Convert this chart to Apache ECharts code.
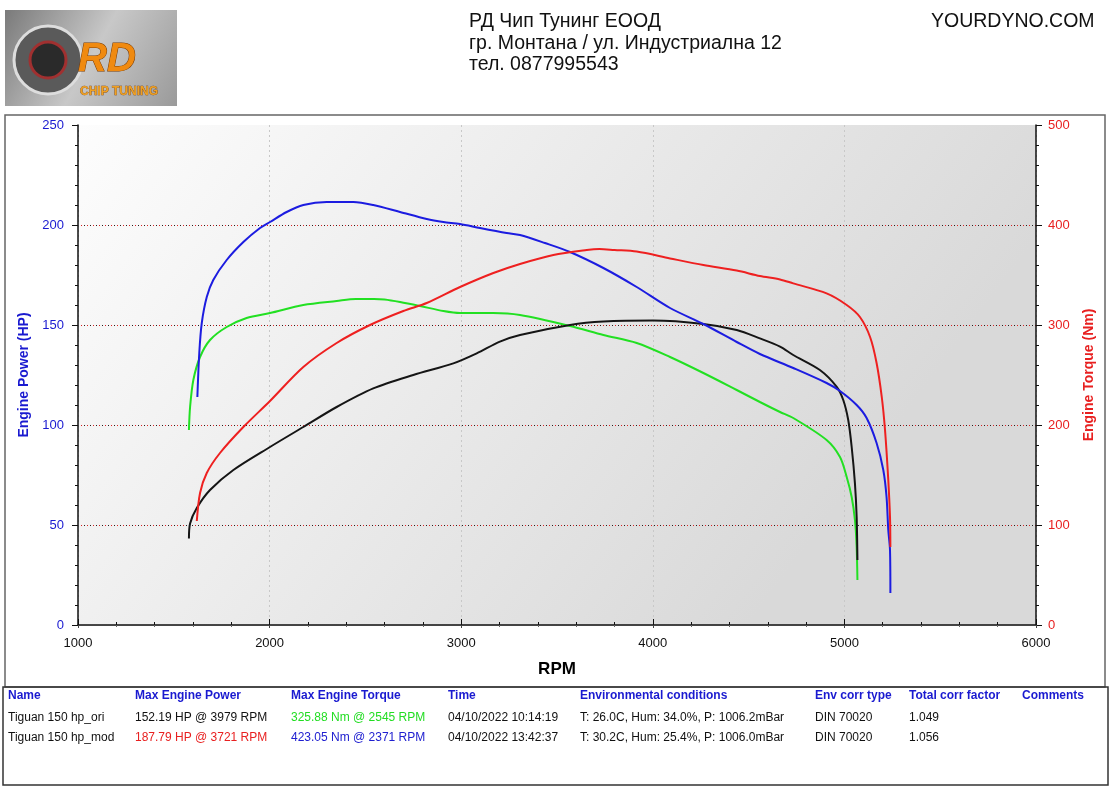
<!DOCTYPE html>
<html>
<head>
<meta charset="utf-8">
<script src="https://cdn.jsdelivr.net/npm/echarts@6/dist/echarts.min.js"></script>
<style>
  html, body { margin: 0; padding: 0; background: #fff; }
  #chart { width: 1110px; height: 794px; }
</style>
</head>
<body>
<div id="chart"></div>
<script>
// Tiguan 150 hp_mod - power (HP, left axis)
var modPowerRpm = [1620,1637,1672,1741,1863,2002,2176,2350,2524,2698,2820,2994,3168,3307,3481,3655,3721,3800,3916,4090,4264,4438,4559,4664,4733,4907,5012,5081,5134,5168,5195,5212,5229,5238,5240];
var modPowerHp  = [52,66,76,86,99,112,129,141,150,157,161,169,176,180.5,185,187.5,188,187.5,186.7,183.3,180,177.2,174.5,172.8,170.8,165.8,160,154,144,131,114,97.5,72.5,54,39];

// Tiguan 150 hp_mod - torque (Nm, right axis)
var modTorqueRpm = [1623,1633,1646,1672,1706,1776,1863,1950,2002,2089,2176,2298,2371,2437,2541,2681,2820,2907,2994,3098,3237,3307,3437,3568,3742,3916,4090,4264,4438,4559,4733,4907,4977,5064,5116,5168,5203,5220,5229,5238,5240];
var modTorqueNm  = [228,272,302,328,345,365,383,397,403,413,420,423,423,423,420,413,406,403,401,397,392,390,382,373,357,338,317,301,283,271,257,242,234,220,207,182,155,128,95,75,32];

// Tiguan 150 hp_ori - power (HP, left axis)
var oriPowerRpm = [1579,1585,1620,1689,1811,2002,2176,2350,2541,2750,2959,3081,3202,3307,3568,3742,4002,4264,4438,4559,4664,4733,4872,4959,4994,5020,5038,5055,5064,5068];
var oriPowerHp  = [43.3,50.8,58.5,67.5,77.5,89,99,109,118.3,125,130.8,135.8,141.7,145,150,151.7,152.2,150.5,147.5,143.3,139.2,135,127.5,119.2,112.5,102.5,89,70.8,54,32.5];

// Tiguan 150 hp_ori - torque (Nm, right axis)
var oriTorqueRpm = [1579,1585,1602,1637,1689,1776,1880,2002,2176,2350,2450,2545,2600,2681,2785,2907,2994,3168,3307,3568,3742,3916,4090,4264,4438,4559,4664,4733,4907,4977,5012,5038,5055,5064,5068];
var oriTorqueNm  = [195,218,245,268,285,298,307,312,320,324,326,326,325.5,323,319,314,312,312,310,299,290,282,268,252,235,223,213,207,185,168,148,128,105,78,45];

var rpmTicks = [1000,2000,3000,4000,5000,6000];
var hpTicks = [0,50,100,150,200,250];
var nmTicks = [0,100,200,300,400,500];

var headerLines = ['РД Чип Тунинг ЕООД', 'гр. Монтана / ул. Индустриална 12', 'тел. 0877995543'];
var tableCols = ['Name','Max Engine Power','Max Engine Torque','Time','Environmental conditions','Env corr type','Total corr factor','Comments'];
var tableColX = [8,135,291,448,580,815,909,1022];
var tableRows = [
  ['Tiguan 150 hp_ori','152.19 HP @ 3979 RPM','325.88 Nm @ 2545 RPM','04/10/2022 10:14:19','T: 26.0C, Hum: 34.0%, P: 1006.2mBar','DIN 70020','1.049',''],
  ['Tiguan 150 hp_mod','187.79 HP @ 3721 RPM','423.05 Nm @ 2371 RPM','04/10/2022 13:42:37','T: 30.2C, Hum: 25.4%, P: 1006.0mBar','DIN 70020','1.056','']
];
var rowColors = [
  ['#111','#111','#22dd22','#111','#111','#111','#111','#111'],
  ['#111','#e82020','#2020d0','#111','#111','#111','#111','#111']
];

function pairs(xs, ys) {
  var out = [];
  for (var i = 0; i < xs.length; i++) out.push([xs[i], ys[i]]);
  return out;
}

var FONT = '"Liberation Sans", Arial, sans-serif';
var chart = echarts.init(document.getElementById('chart'));

var graphics = [
  // outer frames
  { type: 'rect', shape: { x: 5, y: 115, width: 1100, height: 572 }, style: { fill: 'none', stroke: '#666', lineWidth: 1.5 }, z: 0 },
  { type: 'rect', shape: { x: 3, y: 687, width: 1105, height: 98 }, style: { fill: 'none', stroke: '#333', lineWidth: 1.5 }, z: 0 },
  // logo
  { type: 'rect', shape: { x: 5, y: 10, width: 172, height: 96 },
    style: { fill: { type: 'linear', x: 0, y: 0, x2: 1, y2: 1, colorStops: [{ offset: 0, color: '#7a7a7a' }, { offset: 0.5, color: '#c8c8c8' }, { offset: 1, color: '#9a9a9a' }] } } },
  { type: 'circle', shape: { cx: 48, cy: 60, r: 34 }, style: { fill: '#5a5a5a', stroke: '#ddd', lineWidth: 3 } },
  { type: 'circle', shape: { cx: 48, cy: 60, r: 18 }, style: { fill: '#2a2a2a', stroke: '#a03030', lineWidth: 3 } },
  { type: 'text', style: { x: 78, y: 40, text: 'RD', fill: '#f08a10', stroke: '#7a3a00', lineWidth: 1, font: 'italic bold 40px ' + FONT } },
  { type: 'text', style: { x: 80, y: 86, text: 'CHIP TUNING', fill: '#f0a020', stroke: '#6a3000', lineWidth: 0.5, font: 'bold 12px ' + FONT } }
];

headerLines.forEach(function (t, i) {
  graphics.push({ type: 'text', style: { x: 469, y: 12 + i * 21.5, text: t, fill: '#111', font: '19.5px ' + FONT } });
});
graphics.push({ type: 'text', style: { x: 931, y: 12, text: 'YOURDYNO.COM', fill: '#111', font: '19.5px ' + FONT } });

tableCols.forEach(function (t, i) {
  graphics.push({ type: 'text', style: { x: tableColX[i], y: 696, text: t, fill: '#1a1ad0', font: 'bold 12px ' + FONT, textVerticalAlign: 'middle' } });
});
tableRows.forEach(function (row, r) {
  row.forEach(function (t, i) {
    if (!t) return;
    graphics.push({ type: 'text', style: { x: tableColX[i], y: 718 + r * 20, text: t, fill: rowColors[r][i], font: '12px ' + FONT, textVerticalAlign: 'middle' } });
  });
});

var lineStyleBase = { width: 2 };

var option = {
  animation: false,
  backgroundColor: '#fff',
  textStyle: { fontFamily: FONT },
  grid: {
    left: 78, right: 74, top: 125, bottom: 169,
    show: true,
    borderWidth: 0,
    backgroundColor: { type: 'linear', x: 0, y: 0, x2: 0.7, y2: 1,
      colorStops: [{ offset: 0, color: '#fdfdfd' }, { offset: 1, color: '#d9d9d9' }] }
  },
  graphic: graphics,
  xAxis: [
    {
      type: 'value', min: 1000, max: 6000, interval: 1000,
      name: 'RPM', nameLocation: 'middle', nameGap: 36,
      nameTextStyle: { color: '#000', fontSize: 17, fontWeight: 'bold' },
      axisLine: { show: true, lineStyle: { color: '#111', width: 1.5 } },
      axisTick: { show: true, inside: true, length: 6, lineStyle: { color: '#111' } },
      minorTick: { show: true, splitNumber: 5, length: 3, lineStyle: { color: '#111' } },
      axisLabel: { color: '#111', fontSize: 13, margin: 12, customValues: rpmTicks,
        formatter: function (v) { return String(v); } },
      splitLine: { show: true, lineStyle: { color: '#c8c8c8', type: [2, 3], width: 1 } }
    },
    {
      type: 'value', min: 1000, max: 6000, interval: 1000, position: 'top',
      axisLine: { show: true, lineStyle: { color: '#444', width: 1 } },
      axisTick: { show: true, inside: true, length: 3, lineStyle: { color: '#444' } },
      minorTick: { show: true, splitNumber: 5, length: 2, lineStyle: { color: '#666' } },
      axisLabel: { show: false },
      splitLine: { show: false }
    }
  ],
  yAxis: [
    {
      type: 'value', min: 0, max: 250, interval: 50,
      name: 'Engine Power (HP)', nameLocation: 'middle', nameGap: 47, nameRotate: 90,
      nameTextStyle: { color: '#1a1ad0', fontSize: 14, fontWeight: 'bold' },
      axisLine: { show: true, lineStyle: { color: '#111', width: 1.5 } },
      axisTick: { show: true, length: 6, lineStyle: { color: '#111' } },
      minorTick: { show: true, splitNumber: 5, length: 3, lineStyle: { color: '#111' } },
      axisLabel: { color: '#1a1ad0', fontSize: 13, margin: 14, customValues: hpTicks },
      splitLine: { show: true, showMinLine: false, showMaxLine: false, lineStyle: { color: '#e02020', type: [1, 2], width: 1 } }
    },
    {
      type: 'value', min: 0, max: 500, interval: 100, position: 'right',
      name: 'Engine Torque (Nm)', nameLocation: 'middle', nameGap: 46, nameRotate: 90,
      nameTextStyle: { color: '#e82020', fontSize: 14, fontWeight: 'bold' },
      axisLine: { show: true, lineStyle: { color: '#111', width: 1.5 } },
      axisTick: { show: true, length: 6, lineStyle: { color: '#111' } },
      minorTick: { show: true, splitNumber: 5, length: 3, lineStyle: { color: '#111' } },
      axisLabel: { color: '#e82020', fontSize: 13, margin: 12, customValues: nmTicks },
      splitLine: { show: true, showMinLine: false, showMaxLine: false, lineStyle: { color: '#222', type: [1, 5], width: 1 } }
    }
  ],
  series: [
    { name: 'Tiguan 150 hp_ori torque', type: 'line', yAxisIndex: 1, data: pairs(oriTorqueRpm, oriTorqueNm),
      showSymbol: false, smooth: 0.3, lineStyle: Object.assign({ color: '#22e022' }, lineStyleBase), itemStyle: { color: '#22e022' } },
    { name: 'Tiguan 150 hp_ori power', type: 'line', yAxisIndex: 0, data: pairs(oriPowerRpm, oriPowerHp),
      showSymbol: false, smooth: 0.3, lineStyle: Object.assign({ color: '#151515' }, lineStyleBase), itemStyle: { color: '#151515' } },
    { name: 'Tiguan 150 hp_mod torque', type: 'line', yAxisIndex: 1, data: pairs(modTorqueRpm, modTorqueNm),
      showSymbol: false, smooth: 0.3, lineStyle: Object.assign({ color: '#1c1ce0' }, lineStyleBase), itemStyle: { color: '#1c1ce0' } },
    { name: 'Tiguan 150 hp_mod power', type: 'line', yAxisIndex: 0, data: pairs(modPowerRpm, modPowerHp),
      showSymbol: false, smooth: 0.3, lineStyle: Object.assign({ color: '#ee2020' }, lineStyleBase), itemStyle: { color: '#ee2020' } }
  ]
};

chart.setOption(option);
</script>
</body>
</html>
